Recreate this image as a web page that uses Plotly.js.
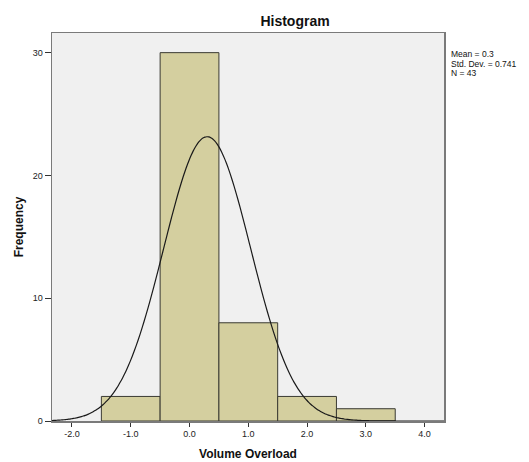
<!DOCTYPE html>
<html>
<head>
<meta charset="utf-8">
<script src="https://cdn.plot.ly/plotly-3.0.1.min.js"></script>
<style>
html,body{margin:0;padding:0;background:#fff;}
#chart{width:529px;height:462px;}
</style>
</head>
<body>
<div id="chart"></div>
<script>
// Histogram bins (bin centers, width 1) and frequencies
const binCenters = [-1, 0, 1, 2, 3];
const frequencies = [2, 30, 8, 2, 1];
const xTickVals = [-2, -1, 0, 1, 2, 3, 4];
const xTickText = ['-2.0', '-1.0', '0.0', '1.0', '2.0', '3.0', '4.0'];
const yTickVals = [0, 10, 20, 30];
const statLines = ['Mean = 0.3', 'Std. Dev. = 0.741', 'N = 43'];
// Normal curve parameters as reported by the chart
const mean = 0.3;
const stdDev = 0.741;
const nObs = 43;
const binWidth = 1;

const xRange = [-2.34, 4.33];
const curveX = [];
const curveY = [];
const steps = 200;
for (let i = 0; i <= steps; i++) {
  const x = xRange[0] + (xRange[1] - xRange[0]) * i / steps;
  const z = (x - mean) / stdDev;
  curveX.push(x);
  curveY.push(nObs * binWidth * Math.exp(-0.5 * z * z) / (stdDev * Math.sqrt(2 * Math.PI)));
}

const font = 'Liberation Sans, Arial, sans-serif';

const traces = [
  {
    type: 'bar',
    x: binCenters,
    y: frequencies,
    width: binWidth,
    marker: {color: '#d4cf9f', line: {color: '#3a3a32', width: 1}},
    hoverinfo: 'x+y',
    showlegend: false
  },
  {
    type: 'scatter',
    mode: 'lines',
    x: curveX,
    y: curveY,
    line: {color: '#1a1a1a', width: 1.2, shape: 'spline'},
    hoverinfo: 'skip',
    showlegend: false
  }
];

// plot area: top 33px, bottom 421px (388px tall)
const statY0 = 54, statStep = 9.5;
const annotations = statLines.map((t, i) => ({
  xref: 'paper', yref: 'paper',
  x: 1.015, y: (421 - (statY0 + i * statStep)) / 388,
  xanchor: 'left', yanchor: 'middle',
  text: t, showarrow: false,
  font: {family: font, size: 8.5, color: '#111'},
  borderpad: 0
}));

const layout = {
  width: 529, height: 462,
  margin: {l: 52, r: 85, t: 33, b: 41, pad: 0},
  paper_bgcolor: '#ffffff',
  plot_bgcolor: '#f0f0f0',
  bargap: 0,
  title: {
    text: '<b>Histogram</b>',
    font: {family: font, size: 14, color: '#111'},
    xref: 'paper', x: 0.62, xanchor: 'center',
    yref: 'container', y: 1 - 21.5 / 462, yanchor: 'middle'
  },
  xaxis: {
    range: xRange,
    tickvals: xTickVals, ticktext: xTickText,
    ticks: 'outside', ticklen: 4, tickcolor: '#333', tickwidth: 1,
    tickfont: {family: font, size: 9, color: '#222'},
    showgrid: false, zeroline: false,
    showline: true, mirror: true, linecolor: '#7a7a7a', linewidth: 1.5,
    title: {text: '<b>Volume Overload</b>', font: {family: font, size: 12, color: '#111'}, standoff: 11}
  },
  yaxis: {
    range: [0, 31.6],
    tickvals: yTickVals,
    ticks: 'outside', ticklen: 6, tickcolor: '#333', tickwidth: 1,
    tickfont: {family: font, size: 9, color: '#222'},
    showgrid: false, zeroline: false,
    showline: true, mirror: true, linecolor: '#7a7a7a', linewidth: 1.5,
    title: {text: '<b>Frequency</b>', font: {family: font, size: 12, color: '#111'}, standoff: 6}
  },
  annotations: annotations
};

Plotly.newPlot('chart', traces, layout, {displayModeBar: false, staticPlot: true});
</script>
</body>
</html>
